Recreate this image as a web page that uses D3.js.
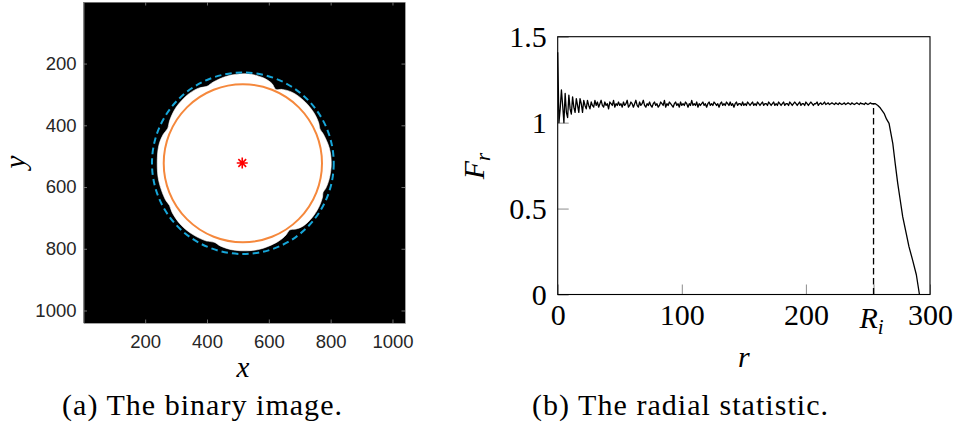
<!DOCTYPE html>
<html>
<head>
<meta charset="utf-8">
<script src="https://cdn.jsdelivr.net/npm/d3@7"></script>
<style>
  body { margin: 0; background: #fff; }
  svg { display: block; }
  .serif { font-family: "Liberation Serif", "Times New Roman", serif; }
  .sans { font-family: "Liberation Sans", Arial, Helvetica, sans-serif; }
</style>
</head>
<body>
<div id="chart"></div>
<script>
// ---- data ----

// (a) binary image: blob outline, angle (deg, screen clockwise) and radius (image px)
var blobAngles = [0, 10, 17, 20, 23, 30, 38, 46, 51, 55, 59, 66, 80, 95, 105, 110, 115, 125, 135, 145,
  150, 155, 168, 180, 192, 200, 205, 210, 220, 232, 240, 245, 250, 260, 272, 283, 290, 294, 298, 305,
  315, 325, 332, 336, 340, 350];
var blobRadii = [286, 284, 280, 276, 280, 284, 285, 282, 274, 264, 271, 278, 284, 283, 278, 272, 278, 282, 283, 279,
  274, 277, 278, 277, 278, 274, 268, 274, 282, 285, 282, 275, 280, 287, 290, 285, 275, 262, 271, 280,
  283, 282, 278, 273, 277, 284];
var centre = [516, 523];
var starPos = [514, 522];
var innerRadius = 256;   // orange circle
var outerRadius = 294;   // dashed circle
var imgTicks = [200, 400, 600, 800, 1000];

// (b) radial statistic, F_r for r = 0 .. 254
var fHead = [
  1.41, 1.00, 1.08, 1.19, 1.10, 1.00, 1.17, 1.06, 1.03, 1.16, 1.08, 1.05, 1.15, 1.09, 1.06, 1.14,
  1.10, 1.06, 1.14, 1.11, 1.06, 1.13, 1.10, 1.08, 1.13, 1.10, 1.08, 1.12, 1.10, 1.09, 1.13,
  1.10, 1.12, 1.09, 1.11, 1.13, 1.10, 1.09, 1.12, 1.10, 1.11, 1.08, 1.12, 1.11, 1.10, 1.13, 1.09, 1.11, 1.10, 1.12, 1.10,
  1.11, 1.09, 1.12, 1.10, 1.11, 1.13, 1.09, 1.10, 1.12, 1.11, 1.09, 1.11, 1.13, 1.10, 1.09, 1.12, 1.10, 1.11, 1.13, 1.10,
  1.09, 1.11, 1.10, 1.12, 1.10, 1.09, 1.11, 1.12, 1.10, 1.11, 1.09, 1.10, 1.12, 1.11, 1.10, 1.13, 1.09, 1.11, 1.10, 1.12,
  1.11, 1.10, 1.09, 1.11, 1.12, 1.10, 1.11, 1.09, 1.12, 1.10, 1.11, 1.10, 1.12, 1.11, 1.09, 1.11, 1.10, 1.13, 1.10, 1.11,
  1.10, 1.12, 1.09, 1.11, 1.10, 1.11, 1.12, 1.10, 1.11, 1.09, 1.11, 1.12, 1.10, 1.11, 1.10, 1.12, 1.11, 1.10, 1.11, 1.09,
  1.11, 1.12, 1.10, 1.11, 1.10, 1.12, 1.11, 1.10, 1.12, 1.10, 1.11, 1.09, 1.11, 1.12, 1.10, 1.11, 1.11, 1.10, 1.12, 1.10,
  1.11, 1.10, 1.12, 1.11, 1.10, 1.11, 1.12, 1.10, 1.11, 1.10, 1.12, 1.11, 1.10, 1.11, 1.12, 1.10, 1.11, 1.11, 1.10, 1.12,
  1.11, 1.10, 1.11, 1.12, 1.10, 1.11, 1.10, 1.12, 1.11, 1.10, 1.11, 1.12, 1.10, 1.11, 1.11, 1.10, 1.12, 1.11, 1.10, 1.11,
  1.12, 1.11, 1.10, 1.11, 1.12, 1.10, 1.11, 1.11, 1.10, 1.12, 1.11, 1.10, 1.11, 1.12, 1.11, 1.10, 1.11, 1.11, 1.12, 1.10,
  1.11, 1.115, 1.105, 1.11, 1.12, 1.105, 1.11, 1.115, 1.105, 1.11, 1.115, 1.11, 1.105, 1.115, 1.11, 1.105, 1.115, 1.11, 1.105, 1.11,
  1.115, 1.105, 1.11, 1.115, 1.11, 1.105, 1.115, 1.11, 1.105, 1.11, 1.115, 1.11, 1.105, 1.115, 1.11, 1.11, 1.105, 1.115, 1.11, 1.105,
  1.11, 1.115, 1.11, 1.11
];
// fall-off past R_i
var rTail = [255, 256, 258, 260, 263, 265, 267, 270, 272, 274, 276, 278, 281, 283, 286, 289, 291.5];
var fTail = [1.11, 1.11, 1.10, 1.085, 1.054, 1.02, 0.996, 0.88, 0.76, 0.647, 0.55, 0.453, 0.35, 0.28, 0.2, 0.115, 0];
var Ri = 254.5;
var rTicks = [0, 100, 200, Ri, 300];
var fTicks = [0, 0.5, 1, 1.5];

var svg = d3.select("#chart")
  .append("svg")
  .attr("width", 955)
  .attr("height", 431);

svg.append("rect").attr("width", 955).attr("height", 431).attr("fill", "#fff");

// ================= (a) the binary image =================
var ix = d3.scaleLinear().domain([0.5, 1040.5]).range([83.5, 405]);
var iy = d3.scaleLinear().domain([0.5, 1040.5]).range([2, 323]);

var imgG = svg.append("g");

imgG.append("rect")
  .attr("x", ix(0.5)).attr("y", iy(0.5))
  .attr("width", ix(1040.5) - ix(0.5))
  .attr("height", iy(1040.5) - iy(0.5))
  .attr("fill", "#000");

// white blob
var blobPts = blobAngles.map(function(a, i) {
  var t = a * Math.PI / 180;
  return [centre[0] + blobRadii[i] * Math.cos(t), centre[1] + blobRadii[i] * Math.sin(t)];
});
var blobLine = d3.line()
  .x(d => ix(d[0]))
  .y(d => iy(d[1]))
  .curve(d3.curveCatmullRomClosed.alpha(0.5));
imgG.append("path")
  .attr("d", blobLine(blobPts))
  .attr("fill", "#fff")
  .attr("stroke", "#fff")
  .attr("stroke-width", 0.6);

// dashed enclosing circle
imgG.append("ellipse")
  .attr("cx", ix(centre[0])).attr("cy", iy(centre[1]))
  .attr("rx", ix(centre[0] + outerRadius) - ix(centre[0]))
  .attr("ry", iy(centre[1] + outerRadius) - iy(centre[1]))
  .attr("fill", "none")
  .attr("stroke", "#16a6d9")
  .attr("stroke-width", 2)
  .attr("stroke-dasharray", "6.5,4");

// orange inscribed circle
imgG.append("ellipse")
  .attr("cx", ix(centre[0])).attr("cy", iy(centre[1]))
  .attr("rx", ix(centre[0] + innerRadius) - ix(centre[0]))
  .attr("ry", iy(centre[1] + innerRadius) - iy(centre[1]))
  .attr("fill", "none")
  .attr("stroke", "#f5883c")
  .attr("stroke-width", 2);

// red asterisk at the centre
var sx = ix(starPos[0]), sy = iy(starPos[1]), sr = 5.5;
var star = "";
[0, 45, 90, 135].forEach(function(a) {
  var t = a * Math.PI / 180;
  star += "M" + (sx - sr * Math.cos(t)) + "," + (sy - sr * Math.sin(t)) +
    "L" + (sx + sr * Math.cos(t)) + "," + (sy + sr * Math.sin(t));
});
imgG.append("path").attr("d", star).attr("stroke", "#ff0000").attr("stroke-width", 1.6);

// axes, ticks point inward on all four sides
function styleImgAxis(g) {
  g.attr("font-family", null);
  g.select(".domain").attr("stroke", "#8a8a8a").attr("stroke-width", 0.8);
  g.selectAll(".tick line").attr("stroke", "#8a8a8a").attr("stroke-width", 0.8);
  g.selectAll("text").attr("class", "sans").attr("font-size", 18.5).attr("fill", "#262626");
}
imgG.append("g").attr("transform", `translate(0,${iy(1040.5)})`)
  .call(d3.axisBottom(ix).tickValues(imgTicks).tickSize(-3.5).tickSizeOuter(0).tickPadding(12)
    .tickFormat(d3.format("d")))
  .call(styleImgAxis);
imgG.append("g").attr("transform", `translate(${ix(0.5)},0)`)
  .call(d3.axisLeft(iy).tickValues(imgTicks).tickSize(-3.5).tickSizeOuter(0).tickPadding(7)
    .tickFormat(d3.format("d")))
  .call(styleImgAxis);
imgG.append("g").attr("transform", `translate(0,${iy(0.5)})`)
  .call(d3.axisTop(ix).tickValues(imgTicks).tickSize(-3.5).tickSizeOuter(0).tickFormat(""))
  .call(styleImgAxis);
imgG.append("g").attr("transform", `translate(${ix(1040.5)},0)`)
  .call(d3.axisRight(iy).tickValues(imgTicks).tickSize(-3.5).tickSizeOuter(0).tickFormat(""))
  .call(styleImgAxis);

imgG.append("text")
  .attr("class", "serif")
  .attr("x", 243).attr("y", 377)
  .attr("text-anchor", "middle")
  .attr("font-style", "italic").attr("font-size", 29)
  .text("x");
imgG.append("text")
  .attr("class", "serif")
  .attr("transform", "translate(25,162) rotate(-90)")
  .attr("text-anchor", "middle")
  .attr("font-style", "italic").attr("font-size", 29)
  .text("y");

// ================= (b) the radial statistic =================
var xr = d3.scaleLinear().domain([0, 300]).range([557.7, 930]);
var yf = d3.scaleLinear().domain([0, 1.5]).range([294.5, 36.7]);

var plotG = svg.append("g");

var curve = fHead.map((f, i) => [i, f]).concat(rTail.map((r, i) => [r, fTail[i]]));

function styleTickAxis(g) {
  g.attr("font-family", null);
  g.select(".domain").remove();
  g.selectAll(".tick line").attr("stroke", "#8c8c8c").attr("stroke-width", 1);
  g.selectAll("text").attr("class", "serif").attr("font-size", 30).attr("fill", "#000");
}

plotG.append("g").attr("transform", `translate(0,${yf(0)})`)
  .call(d3.axisBottom(xr).tickValues(rTicks).tickSize(-10).tickPadding(9.5)
    .tickFormat(d => d === Ri ? "" : d3.format("d")(d)))
  .call(styleTickAxis);
plotG.append("g").attr("transform", `translate(${xr(0)},0)`)
  .call(d3.axisLeft(yf).tickValues(fTicks).tickSize(-11).tickPadding(11)
    .tickFormat(d => d === 0 || d === 1 ? d3.format("d")(d) : d3.format(".1f")(d)))
  .call(styleTickAxis);

// R_i tick label
var riText = plotG.append("text")
  .attr("class", "serif")
  .attr("x", xr(Ri) - 2).attr("y", 328)
  .attr("text-anchor", "middle")
  .attr("font-style", "italic").attr("font-size", 30);
riText.append("tspan").text("R");
riText.append("tspan").attr("font-size", 21).attr("dy", 6).text("i");

// dashed marker at R_i
plotG.append("line")
  .attr("x1", xr(Ri)).attr("x2", xr(Ri))
  .attr("y1", yf(0)).attr("y2", yf(1.11))
  .attr("stroke", "#000").attr("stroke-width", 1.3)
  .attr("stroke-dasharray", "6.5,3.5");

var line = d3.line()
  .x(d => xr(d[0]))
  .y(d => yf(d[1]));

plotG.append("path")
  .attr("d", line(curve))
  .attr("fill", "none")
  .attr("stroke", "#000")
  .attr("stroke-width", 1.3)
  .attr("stroke-linejoin", "round");

// box
plotG.append("rect")
  .attr("x", xr(0)).attr("y", yf(1.5))
  .attr("width", xr(300) - xr(0)).attr("height", yf(0) - yf(1.5))
  .attr("fill", "none").attr("stroke", "#000").attr("stroke-width", 1.1);

plotG.append("text")
  .attr("class", "serif")
  .attr("x", xr(150)).attr("y", 367)
  .attr("text-anchor", "middle")
  .attr("font-style", "italic").attr("font-size", 30)
  .text("r");

var frText = plotG.append("text")
  .attr("class", "serif")
  .attr("transform", "translate(484,166) rotate(-90)")
  .attr("text-anchor", "middle")
  .attr("font-style", "italic").attr("font-size", 30);
frText.append("tspan").text("F");
frText.append("tspan").attr("font-size", 21).attr("dy", 6).text("r");

// ================= captions =================
svg.append("text")
  .attr("class", "serif")
  .attr("x", 62).attr("y", 415)
  .attr("font-size", 30)
  .attr("textLength", 280).attr("lengthAdjust", "spacing")
  .text("(a) The binary image.");
svg.append("text")
  .attr("class", "serif")
  .attr("x", 532).attr("y", 415)
  .attr("font-size", 30)
  .attr("textLength", 296).attr("lengthAdjust", "spacing")
  .text("(b) The radial statistic.");
</script>
</body>
</html>
